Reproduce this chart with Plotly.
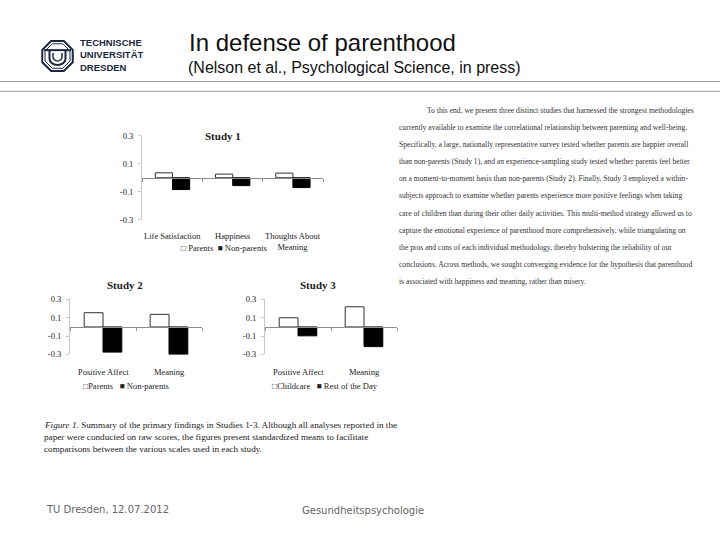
import math
import plotly.graph_objects as go

W, H = 720, 540

# ---------------- data ----------------
s1_categories = ["Life Satisfaction", "Happiness", "Thoughts About Meaning"]
s1_labels = ["Life Satisfaction", "Happiness", "Thoughts About<br>Meaning"]
s1_parents = [0.035, 0.026, 0.033]
s1_nonparents = [-0.084, -0.056, -0.070]

s2_categories = ["Positive Affect", "Meaning"]
s2_parents = [0.155, 0.137]
s2_nonparents = [-0.275, -0.300]

s3_categories = ["Positive Affect", "Meaning"]
s3_childcare = [0.100, 0.220]
s3_rest = [-0.097, -0.215]

y_ticks = [0.3, 0.1, -0.1, -0.3]
y_tick_labels = ["0.3", "0.1", "-0.1", "-0.3"]

body_lines = [
    "To this end, we present three distinct studies that harnessed the strongest methodologies",
    "currently available to examine the correlational relationship between parenting and well-being.",
    "Specifically, a large, nationally representative survey tested whether parents are happier overall",
    "than non-parents (Study 1), and an experience-sampling study tested whether parents feel better",
    "on a moment-to-moment basis than non-parents (Study 2). Finally, Study 3 employed a within-",
    "subjects approach to examine whether parents experience more positive feelings when taking",
    "care of children than during their other daily activities. This multi-method strategy allowed us to",
    "capture the emotional experience of parenthood more comprehensively, while triangulating on",
    "the pros and cons of each individual methodology, thereby bolstering the reliability of our",
    "conclusions. Across methods, we sought converging evidence for the hypothesis that parenthood",
    "is associated with happiness and meaning, rather than misery.",
]
caption_lines = [
    "<i>Figure 1.</i> Summary of the primary findings in Studies 1-3. Although all analyses reported in the",
    "paper were conducted on raw scores, the figures present standardized means to facilitate",
    "comparisons between the various scales used in each study.",
]


def px(x):
    return x / W


def py(y):
    return 1 - y / H


SERIF = "Liberation Serif"
TXT = "#222222"

fig = go.Figure()

white_bar = dict(color="white", line=dict(color="#333333", width=1))
black_bar = dict(color="black", line=dict(color="black", width=1))

fig.add_trace(go.Bar(x=s1_categories, y=s1_parents, marker=white_bar, xaxis="x", yaxis="y", showlegend=False))
fig.add_trace(go.Bar(x=s1_categories, y=s1_nonparents, marker=black_bar, xaxis="x", yaxis="y", showlegend=False))
fig.add_trace(go.Bar(x=s2_categories, y=s2_parents, marker=white_bar, xaxis="x2", yaxis="y2", showlegend=False))
fig.add_trace(go.Bar(x=s2_categories, y=s2_nonparents, marker=black_bar, xaxis="x2", yaxis="y2", showlegend=False))
fig.add_trace(go.Bar(x=s3_categories, y=s3_childcare, marker=white_bar, xaxis="x3", yaxis="y3", showlegend=False))
fig.add_trace(go.Bar(x=s3_categories, y=s3_rest, marker=black_bar, xaxis="x3", yaxis="y3", showlegend=False))


def xaxis_cfg(x0, x1, zero_y):
    return dict(domain=[px(x0), px(x1)], anchor="free", position=py(zero_y),
                showline=True, linecolor="#8c8c8c", linewidth=1,
                ticks="outside", tickson="boundaries", ticklen=3, tickcolor="#8c8c8c",
                showticklabels=False, showgrid=False, zeroline=False, fixedrange=True)


def yaxis_cfg(y_top, y_bot, anchor):
    return dict(domain=[py(y_bot), py(y_top)], range=[-0.3, 0.3], anchor=anchor,
                tickvals=y_ticks, ticktext=y_tick_labels,
                tickfont=dict(family=SERIF, size=8.5, color=TXT),
                showline=True, linecolor="#c8c8c8", linewidth=1,
                ticks="outside", ticklen=3, tickcolor="#c8c8c8",
                ticklabelstandoff=3,
                showgrid=False, zeroline=False, fixedrange=True)


fig.update_layout(
    width=W, height=H,
    margin=dict(l=0, r=0, t=0, b=0),
    paper_bgcolor="white", plot_bgcolor="white",
    barmode="group", bargap=0.43, bargroupgap=0,
    hovermode=False,
    xaxis=xaxis_cfg(142, 323, 176),
    yaxis=yaxis_cfg(133, 219, "x"),
    xaxis2=xaxis_cfg(70, 202, 327.7),
    yaxis2=yaxis_cfg(300, 356, "x2"),
    xaxis3=xaxis_cfg(265, 397, 327.7),
    yaxis3=yaxis_cfg(300, 356, "x3"),
)

ann = []


def text(x, y, s, size, family=SERIF, color=TXT, xanchor="left", yanchor="middle", xref="paper", yref="paper",
         align="center"):
    ann.append(dict(x=x if xref != "paper" else px(x), y=py(y) if yref == "paper" else y,
                    xref=xref, yref=yref, text=s, showarrow=False,
                    xanchor=xanchor, yanchor=yanchor, align=align,
                    font=dict(family=family, size=size, color=color)))


# chart titles
text(223, 133, "<b>Study 1</b>", 11, xanchor="center")
text(125, 285, "<b>Study 2</b>", 11, xanchor="center")
text(318, 285, "<b>Study 3</b>", 11, xanchor="center")

# category labels
for c, lab in zip(s1_categories, s1_labels):
    text(c, 228, lab, 8.5, xanchor="center", yanchor="top", xref="x")
for c in s2_categories:
    text(c, 367, c, 8.5, xanchor="center", yanchor="top", xref="x2")
for c in s3_categories:
    text(c, 367, c, 8.5, xanchor="center", yanchor="top", xref="x3")

# legends
text(224, 248, "□ Parents  ■ Non-parents", 8.5, xanchor="center")
text(126, 388, "□Parents   ■ Non-parents", 8.5, xanchor="center")
text(325, 388, "□Childcare   ■ Rest of the Day", 8.5, xanchor="center")

# caption
for i, line in enumerate(caption_lines):
    text(42, 428 + 12 * i, line, 9.2)

# body text on the right
for i, line in enumerate(body_lines):
    x0 = 425 if i == 0 else 397
    text(x0, 107 + 17.5 * i, line, 7.6, color="#333333")

# header
text(187, 38, "In defense of parenthood", 24, family="Liberation Sans", color="#111111")
text(186, 64, "(Nelson et al., Psychological Science, in press)", 16, family="Liberation Sans", color="#111111")

NAVY = "#1c2740"
text(78, 51, "<b>TECHNISCHE<br>UNIVERSITÄT<br>DRESDEN</b>", 9.5, family="Liberation Sans", color=NAVY,
     align="left")

# footer
text(44, 514, "TU Dresden, 12.07.2012", 10, family="DejaVu Sans", color="#666666")
text(300, 515, "Gesundheitspsychologie", 10, family="DejaVu Sans", color="#666666")

fig.update_layout(annotations=ann)

# decorative shapes
shapes = []
for yy in (78, 88):
    shapes.append(dict(type="line", xref="paper", yref="paper", x0=0, x1=1, y0=py(yy), y1=py(yy),
                       line=dict(color="#9a9a9a", width=1)))


def octagon(cx, cy, r):
    pts = []
    for k in range(8):
        a = math.radians(22.5 + 45 * k)
        pts.append((cx + r * math.cos(a), cy + r * math.sin(a)))
    return "M " + " L ".join(f"{px(x):.5f},{py(y):.5f}" for x, y in pts) + " Z"


shapes.append(dict(type="path", xref="paper", yref="paper", path=octagon(57.5, 52, 16.5),
                   line=dict(color=NAVY, width=2)))
shapes.append(dict(type="path", xref="paper", yref="paper", path=octagon(57.5, 52, 13.5),
                   line=dict(color=NAVY, width=1)))


def upath(cx, top, half_w, bottom, r):
    path = f"M {px(cx - half_w):.5f},{py(top):.5f} L {px(cx - half_w):.5f},{py(bottom - r):.5f}"
    steps = 8
    for s in range(1, steps + 1):
        x = cx - half_w * math.cos(math.pi * s / steps)
        y = bottom - r + r * math.sin(math.pi * s / steps)
        path += f" L {px(x):.5f},{py(y):.5f}"
    path += f" L {px(cx + half_w):.5f},{py(top):.5f}"
    return path


shapes.append(dict(type="line", xref="paper", yref="paper", x0=px(44), x1=px(71), y0=py(46), y1=py(46),
                   line=dict(color=NAVY, width=2)))
shapes.append(dict(type="path", xref="paper", yref="paper", path=upath(57.5, 46, 8, 61, 6),
                   line=dict(color=NAVY, width=2)))
shapes.append(dict(type="path", xref="paper", yref="paper", path=upath(57.5, 49, 4.5, 57, 4),
                   line=dict(color=NAVY, width=1.5)))

fig.update_layout(shapes=shapes)

fig.write_html(
    "out.html",
    config={"displayModeBar": False, "staticPlot": True},
    post_script="document.body.style.margin='0';document.body.style.overflow='hidden';",
)
